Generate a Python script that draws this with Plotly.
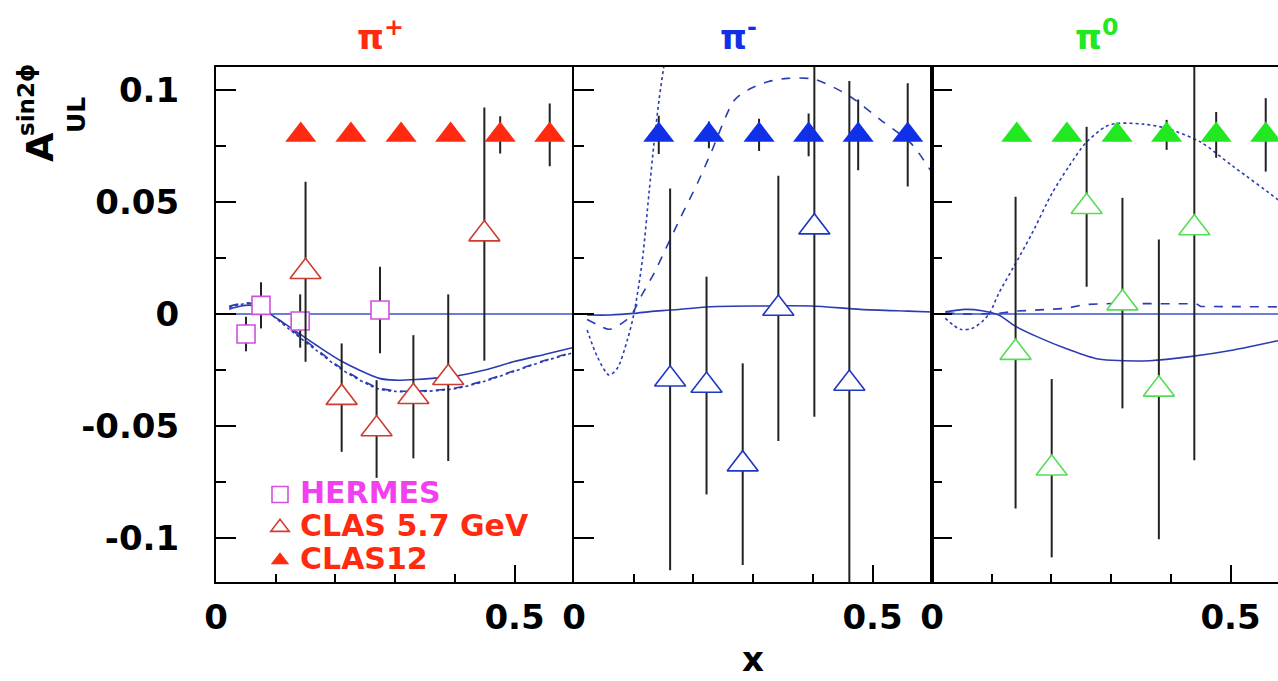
import plotly.graph_objects as go

# ---------------- data ----------------
panels = ["π<sup>+</sup>", "π<sup>-</sup>", "π<sup>0</sup>"]
panel_colors = ["#ff2a10", "#1030e8", "#22e822"]
open_colors = ["#cc3c30", "#2038c0", "#55dd55"]

# CLAS12 projections (same bins for all pions)
clas12_x = [0.142, 0.226, 0.310, 0.393, 0.476, 0.559]
clas12_y = [0.08, 0.08, 0.08, 0.08, 0.08, 0.08]
clas12_err = [
    [0.0028, 0.0028, 0.0028, 0.0028, 0.0083, 0.014],
    [0.0085, 0.006, 0.0072, 0.0095, 0.0158, 0.023],
    [0.0028, 0.0028, 0.0028, 0.0067, 0.0102, 0.0164],
]

# CLAS 5.7 GeV measurements
clas6_x = [
    [0.150, 0.2105, 0.269, 0.3306, 0.389, 0.4495],
    [0.161, 0.222, 0.2826, 0.3423, 0.4026, 0.4612],
    [0.140, 0.2005, 0.259, 0.319, 0.380, 0.4394],
]
clas6_y = [
    [0.0189, -0.0373, -0.0513, -0.0369, -0.0284, 0.0357],
    [-0.0291, -0.0319, -0.067, 0.0025, 0.0388, -0.031],
    [-0.0172, -0.0688, 0.0479, 0.0049, -0.0336, 0.0384],
]
clas6_err = [
    [0.0402, 0.0242, 0.0218, 0.0275, 0.0372, 0.0565],
    [0.0852, 0.0486, 0.045, 0.0592, 0.0846, 0.135],
    [0.0696, 0.0398, 0.0357, 0.047, 0.0669, 0.1036],
]

# HERMES (pi+ only)
hermes_x = [0.0503, 0.0754, 0.141, 0.2747]
hermes_y = [-0.0089, 0.0039, -0.0031, 0.0018]
hermes_err = [0.0077, 0.0103, 0.0119, 0.0193]

# model curves
solid_x = [
    [0.022, 0.04, 0.056, 0.075, 0.089, 0.123, 0.1675, 0.212, 0.2735, 0.30, 0.335, 0.402, 0.45, 0.498, 0.55, 0.6],
    [0.022, 0.06, 0.1, 0.13, 0.162, 0.229, 0.313, 0.397, 0.48, 0.559, 0.6],
    [0.0223, 0.0558, 0.0838, 0.1117, 0.1396, 0.1787, 0.2233, 0.2736, 0.3015, 0.365, 0.432, 0.505, 0.58, 0.6],
]
solid_y = [
    [0.0022, 0.0035, 0.004, 0.0025, 0.0003, -0.0057, -0.0138, -0.0213, -0.0287, -0.0295, -0.0292, -0.0277, -0.025, -0.0213, -0.018, -0.0148],
    [-0.0004, -0.0004, 0.0003, 0.0012, 0.0018, 0.0033, 0.0036, 0.0036, 0.0021, 0.0013, 0.0009],
    [0.001, 0.0021, 0.0015, -0.0004, -0.0054, -0.0104, -0.0153, -0.0198, -0.0206, -0.0208, -0.019, -0.016, -0.0119, -0.011],
]
dashed_x = [
    [0.022, 0.04, 0.053, 0.075, 0.089, 0.123, 0.1675, 0.212, 0.27, 0.30, 0.335, 0.403, 0.45, 0.498, 0.55, 0.598],
    [0.022, 0.04, 0.059, 0.084, 0.097, 0.112, 0.134, 0.154, 0.179, 0.2066, 0.229, 0.2686, 0.291, 0.3245, 0.358, 0.4025, 0.4585, 0.514, 0.5645, 0.6],
    [0.0223, 0.06, 0.1117, 0.1396, 0.2233, 0.2568, 0.3015, 0.443, 0.45, 0.6],
]
dashed_y = [
    [0.0035, 0.0046, 0.005, 0.0033, 0.0008, -0.0062, -0.0155, -0.0245, -0.0328, -0.0342, -0.0344, -0.0329, -0.0297, -0.0254, -0.0207, -0.017],
    [-0.0024, -0.0048, -0.0068, -0.0034, 0.0, 0.0077, 0.0182, 0.0293, 0.0434, 0.0583, 0.0717, 0.0955, 0.1, 0.1037, 0.1052, 0.1048, 0.0978, 0.0866, 0.0762, 0.063],
    [0.0005, 0.0, 0.0003, 0.0013, 0.0025, 0.0043, 0.0047, 0.0046, 0.0034, 0.0032],
]
dotted_x = [
    [0.022, 0.04, 0.053, 0.075, 0.089, 0.123, 0.1675, 0.212, 0.27, 0.30, 0.335, 0.403, 0.45, 0.498, 0.55, 0.598],
    [0.022, 0.039, 0.0586, 0.0726, 0.0893, 0.1005, 0.1145, 0.1256, 0.134, 0.1424, 0.1496, 0.155],
    [0.0223, 0.0474, 0.067, 0.0866, 0.0977, 0.1117, 0.1368, 0.1675, 0.201, 0.229, 0.2568, 0.2903, 0.3094, 0.354, 0.393, 0.449, 0.505, 0.58, 0.6],
]
dotted_y = [
    [0.003, 0.0042, 0.0048, 0.003, 0.0005, -0.0068, -0.0161, -0.025, -0.0332, -0.0345, -0.0347, -0.0332, -0.030, -0.0257, -0.021, -0.0173],
    [-0.0071, -0.019, -0.0272, -0.0242, -0.0116, 0.0003, 0.0241, 0.0539, 0.0762, 0.0955, 0.109, 0.118],
    [-0.0019, -0.0068, -0.0064, -0.0027, 0.001, 0.0092, 0.0211, 0.036, 0.0539, 0.0658, 0.0762, 0.0836, 0.0851, 0.0848, 0.0829, 0.0769, 0.0658, 0.0509, 0.046],
]

y_tickvals = [-0.1, -0.05, 0, 0.05, 0.1]
y_ticktext = ["-0.1", "-0.05", "0", "0.05", "0.1"]
x_tickvals = [0, 0.5]
x_ticktext = ["0", "0.5"]

# ---------------- styling ----------------
W, H = 1278, 681
FONT = "DejaVu Sans"
CURVE = "#2a3cb4"
ERR = "#222222"
HERMES_COLOR = "#d050e0"
HERMES_TEXT = "#f040f0"

x_left = [216, 574, 932]
x_span = 358.2          # pixels for 0.6 in x
y_bottom, y_top = 582, 67
y_range = [-0.1196, 0.1103]

fig = go.Figure()

for i in range(3):
    xa = "x" if i == 0 else f"x{i+1}"
    ya = "y" if i == 0 else f"y{i+1}"

    for xs, ys, dash, shape in [(solid_x[i], solid_y[i], "solid", "spline"),
                                (dashed_x[i], dashed_y[i], "dash", "spline" if i < 2 else "linear"),
                                (dotted_x[i], dotted_y[i], "dot", "spline")]:
        fig.add_trace(go.Scatter(
            x=xs, y=ys, mode="lines", xaxis=xa, yaxis=ya,
            line=dict(color=CURVE, width=1.6, dash=dash, shape=shape, smoothing=0.8),
            showlegend=False, hoverinfo="skip"))

    if i == 0:
        fig.add_trace(go.Scatter(
            x=hermes_x, y=hermes_y, mode="markers", xaxis=xa, yaxis=ya,
            error_y=dict(type="data", array=hermes_err, color=ERR, thickness=2, width=0),
            marker=dict(symbol="square", size=18, color="white",
                        line=dict(color=HERMES_COLOR, width=1.6)),
            name=f"<span style='color:{HERMES_TEXT};font-size:30px'>HERMES</span>",
            legendrank=1, showlegend=True))

    fig.add_trace(go.Scatter(
        x=clas6_x[i], y=clas6_y[i], mode="markers", xaxis=xa, yaxis=ya,
        error_y=dict(type="data", array=clas6_err[i], color=ERR, thickness=2, width=0),
        marker=dict(symbol="triangle-up", size=27, color="white",
                    line=dict(color=open_colors[i], width=1.6)),
        name=f"<span style='color:{panel_colors[0]};font-size:30px'>CLAS 5.7 GeV</span>",
        legendrank=2, showlegend=(i == 0)))

    fig.add_trace(go.Scatter(
        x=clas12_x, y=clas12_y, mode="markers", xaxis=xa, yaxis=ya,
        error_y=dict(type="data", array=clas12_err[i], color=ERR, thickness=2, width=0),
        marker=dict(symbol="triangle-up", size=27, color=panel_colors[i], line=dict(width=0)),
        name=f"<span style='color:{panel_colors[0]};font-size:30px'>CLAS12</span>",
        legendrank=3, showlegend=(i == 0)))

    # axes
    x0 = x_left[i] / W
    x1 = min((x_left[i] + x_span) / W, 1.0)
    xmax = 0.6 if i < 2 else (W - x_left[i]) / x_span * 0.6
    axis_font = dict(family=FONT, size=34, color="black", weight="bold")
    xaxis = dict(domain=[x0, x1], range=[0, xmax], anchor=ya, automargin=False,
                 showline=True, mirror=True, linecolor="black", linewidth=2,
                 ticks="inside", tickvals=x_tickvals, ticktext=x_ticktext,
                 ticklen=17, tickwidth=2, tickcolor="black",
                 minor=dict(dtick=0.1, tick0=0, ticks="inside", ticklen=8,
                            tickwidth=2, tickcolor="black"),
                 showgrid=False, zeroline=False, tickfont=axis_font,
                 ticklabelstandoff=4)
    yaxis = dict(domain=[1 - y_bottom / H, 1 - y_top / H], range=y_range, anchor=xa,
                 automargin=False,
                 showline=True, mirror=(i < 2), linecolor="black", linewidth=2,
                 ticks="inside", tickvals=y_tickvals, ticktext=y_ticktext,
                 ticklen=20, tickwidth=2, tickcolor="black",
                 minor=dict(dtick=0.025, tick0=0, ticks="inside", ticklen=10,
                            tickwidth=2, tickcolor="black"),
                 showgrid=False, zeroline=False, tickfont=axis_font,
                 showticklabels=(i == 0), ticklabelstandoff=28)
    fig.layout["xaxis" if i == 0 else f"xaxis{i+1}"] = xaxis
    fig.layout["yaxis" if i == 0 else f"yaxis{i+1}"] = yaxis

    # y = 0 reference line
    fig.add_shape(type="line", xref=f"{xa} domain", yref=ya, x0=0, x1=1, y0=0, y1=0,
                  line=dict(color="#3c50c8", width=1.5), layer="below")

    # panel title
    fig.add_annotation(text=panels[i], xref=xa, yref="paper", x=0.275, y=1 - 35 / H,
                       xanchor="center", yanchor="middle", showarrow=False,
                       font=dict(family=FONT, size=34, color=panel_colors[i], weight="bold"))

# axis titles
fig.add_annotation(text="x", xref="x2", yref="paper", x=0.3, y=0,
                   xanchor="center", yanchor="bottom", showarrow=False,
                   font=dict(family=FONT, size=34, color="black", weight="bold"))
fig.add_annotation(text="A", xref="paper", yref="paper", x=40 / W, y=1 - 147 / H,
                   textangle=-90, xanchor="center", yanchor="middle", showarrow=False,
                   font=dict(family=FONT, size=38, color="black", weight="bold"))
fig.add_annotation(text="sin2ϕ", xref="paper", yref="paper", x=26 / W, y=1 - 100 / H,
                   textangle=-90, xanchor="center", yanchor="middle", showarrow=False,
                   font=dict(family=FONT, size=23, color="black", weight="bold"))
fig.add_annotation(text="UL", xref="paper", yref="paper", x=77 / W, y=1 - 115 / H,
                   textangle=-90, xanchor="center", yanchor="middle", showarrow=False,
                   font=dict(family=FONT, size=25, color="black", weight="bold"))

fig.update_layout(
    width=W, height=H, autosize=False,
    margin=dict(l=0, r=0, t=0, b=0, pad=0, autoexpand=False),
    paper_bgcolor="white", plot_bgcolor="white",
    font=dict(family=FONT, color="black"),
    showlegend=True,
    legend=dict(x=260 / W, y=1 - 473 / H, xanchor="left", yanchor="top",
                bgcolor="rgba(0,0,0,0)", borderwidth=0,
                font=dict(family=FONT, size=23, color="black", weight="bold"),
                itemwidth=30, tracegroupgap=0, traceorder="normal"),
)

fig.write_html("out.html")
